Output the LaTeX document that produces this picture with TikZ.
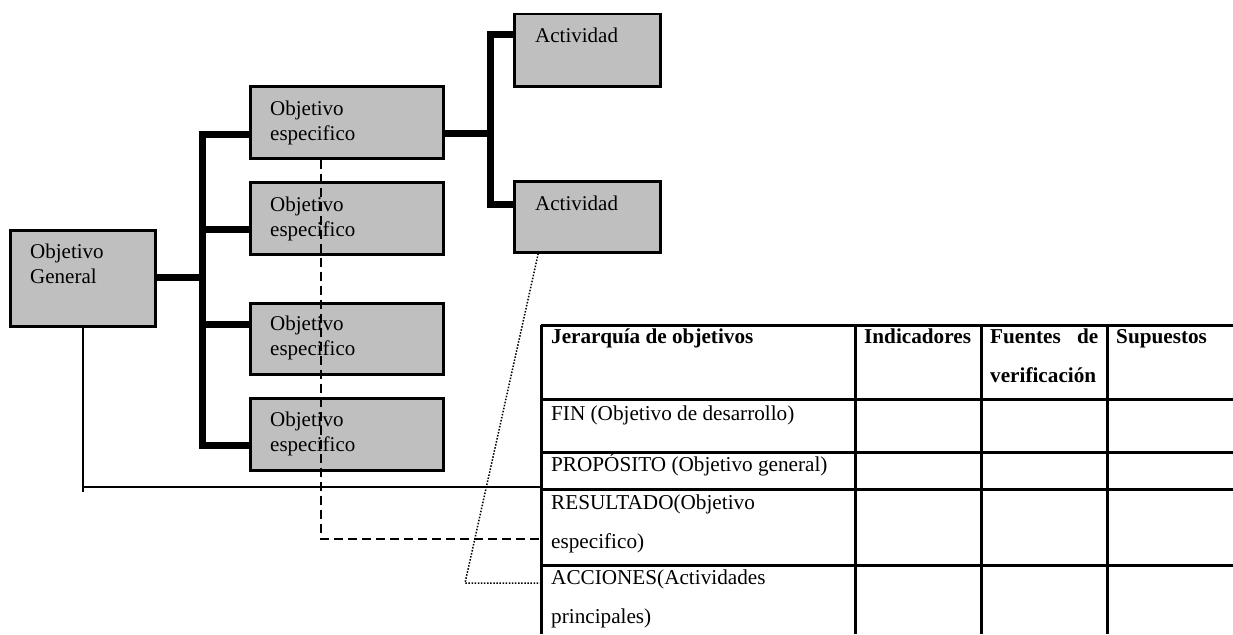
\documentclass[tikz,border=0pt]{standalone}
\usepackage{fontspec}
\setmainfont{Liberation Serif}

\begin{document}
\begin{tikzpicture}[x=1pt,y=-1pt,
    caja/.style={draw=black,line width=2.5pt,fill=black!25,inner sep=0pt,anchor=north west},
    texto/.style={anchor=base west,inner sep=0pt,align=left,font=\fontsize{21}{25}\selectfont},
    celda/.style={anchor=base west,inner sep=0pt,align=left,font=\fontsize{21.2}{39}\selectfont},
    celdatit/.style={celda,font=\fontsize{21.2}{39}\selectfont\bfseries},
    arbol/.style={line width=7pt},
    tabla/.style={line width=3pt},
    linea/.style={line width=2pt},
    discont/.style={line width=2pt,dash pattern=on 9pt off 5pt},
    punteada/.style={line width=1.5pt,dash pattern=on 1.5pt off 1.6pt}]

        \useasboundingbox (0,0) rectangle (1233,634);

        %------------------
        % 木の線（太線）
        %------------------

        \draw[arbol] (9,277) -- (202,277);
        \draw[arbol] (249,134) -- (202,134) -- (202,445) -- (249,445);
        \draw[arbol] (202,229) -- (249,229);
        \draw[arbol] (202,324) -- (249,324);
        \draw[arbol] (442,133) -- (490,133);
        \draw[arbol] (513,35) -- (490,35) -- (490,204) -- (513,204);

        %------------------
        % 箱
        %------------------

        \node[caja,minimum width=145pt,minimum height=96pt] (gen) at (9,229) {};
        \node[caja,minimum width=193pt,minimum height=72pt] (e1) at (249,85) {};
        \node[caja,minimum width=193pt,minimum height=72pt] (e2) at (249,181) {};
        \node[caja,minimum width=193pt,minimum height=71pt] (e3) at (249,302) {};
        \node[caja,minimum width=193pt,minimum height=72pt] (e4) at (249,397) {};
        \node[caja,minimum width=146pt,minimum height=72pt] (a1) at (513,13) {};
        \node[caja,minimum width=146pt,minimum height=71pt] (a2) at (513,180) {};

        % 複数行は最後の行のベースライン
        \node[texto] (tgen) at (30,283) {Objetivo\\General};
        \node[texto] (te1) at (270,140) {Objetivo\\especifico};
        \node[texto] (te2) at (270,236) {Objetivo\\especifico};
        \node[texto] (te3) at (270,355) {Objetivo\\especifico};
        \node[texto] (te4) at (270,451) {Objetivo\\especifico};
        \node[texto] (ta1) at (535,43) {Actividad};
        \node[texto] (ta2) at (535,210) {Actividad};

        %------------------
        % 表
        %------------------

        \foreach \y in {325,399,452,489,565}
          \draw[tabla] (541,\y) -- (1233,\y);
        \foreach \x in {541,855,981,1107}
          \draw[tabla] (\x,325) -- (\x,634);

        \node[celdatit] (h1) at (551,343) {Jerarquía de objetivos};
        \node[celdatit] (h2) at (864,343) {Indicadores};
        \node[celdatit] (h3) at (990,382) {\makebox[108pt][s]{Fuentes de}\\verificación};
        \node[celdatit] (h4) at (1116,343) {Supuestos};

        \node[celda] (fin) at (551,420) {FIN (Objetivo de desarrollo)};
        \node[celda] (pro) at (551,471) {PROPÓSITO (Objetivo general)};
        \node[celda] (res) at (551,548) {RESULTADO(Objetivo\\especifico)};
        \node[celda] (acc) at (551,623) {ACCIONES(Actividades\\principales)};

        %------------------
        % 対応線
        %------------------

        \coordinate (cprop) at (541,487);
        \coordinate (cres) at (541,539);
        \coordinate (cquiebre) at (465,583);
        \coordinate (cacc) at (541,583);

        \draw[linea] (gen.south) -- (gen.south |- 0,492);
        \draw[linea] (gen.south |- cprop) -- (cprop);
        \draw[discont] ([xshift=-25.5pt]e1.south) |- (cres);
        \draw[punteada] ([xshift=-49pt]a2.south) -- (cquiebre) -- (cacc);
      \end{tikzpicture}
\end{document}
